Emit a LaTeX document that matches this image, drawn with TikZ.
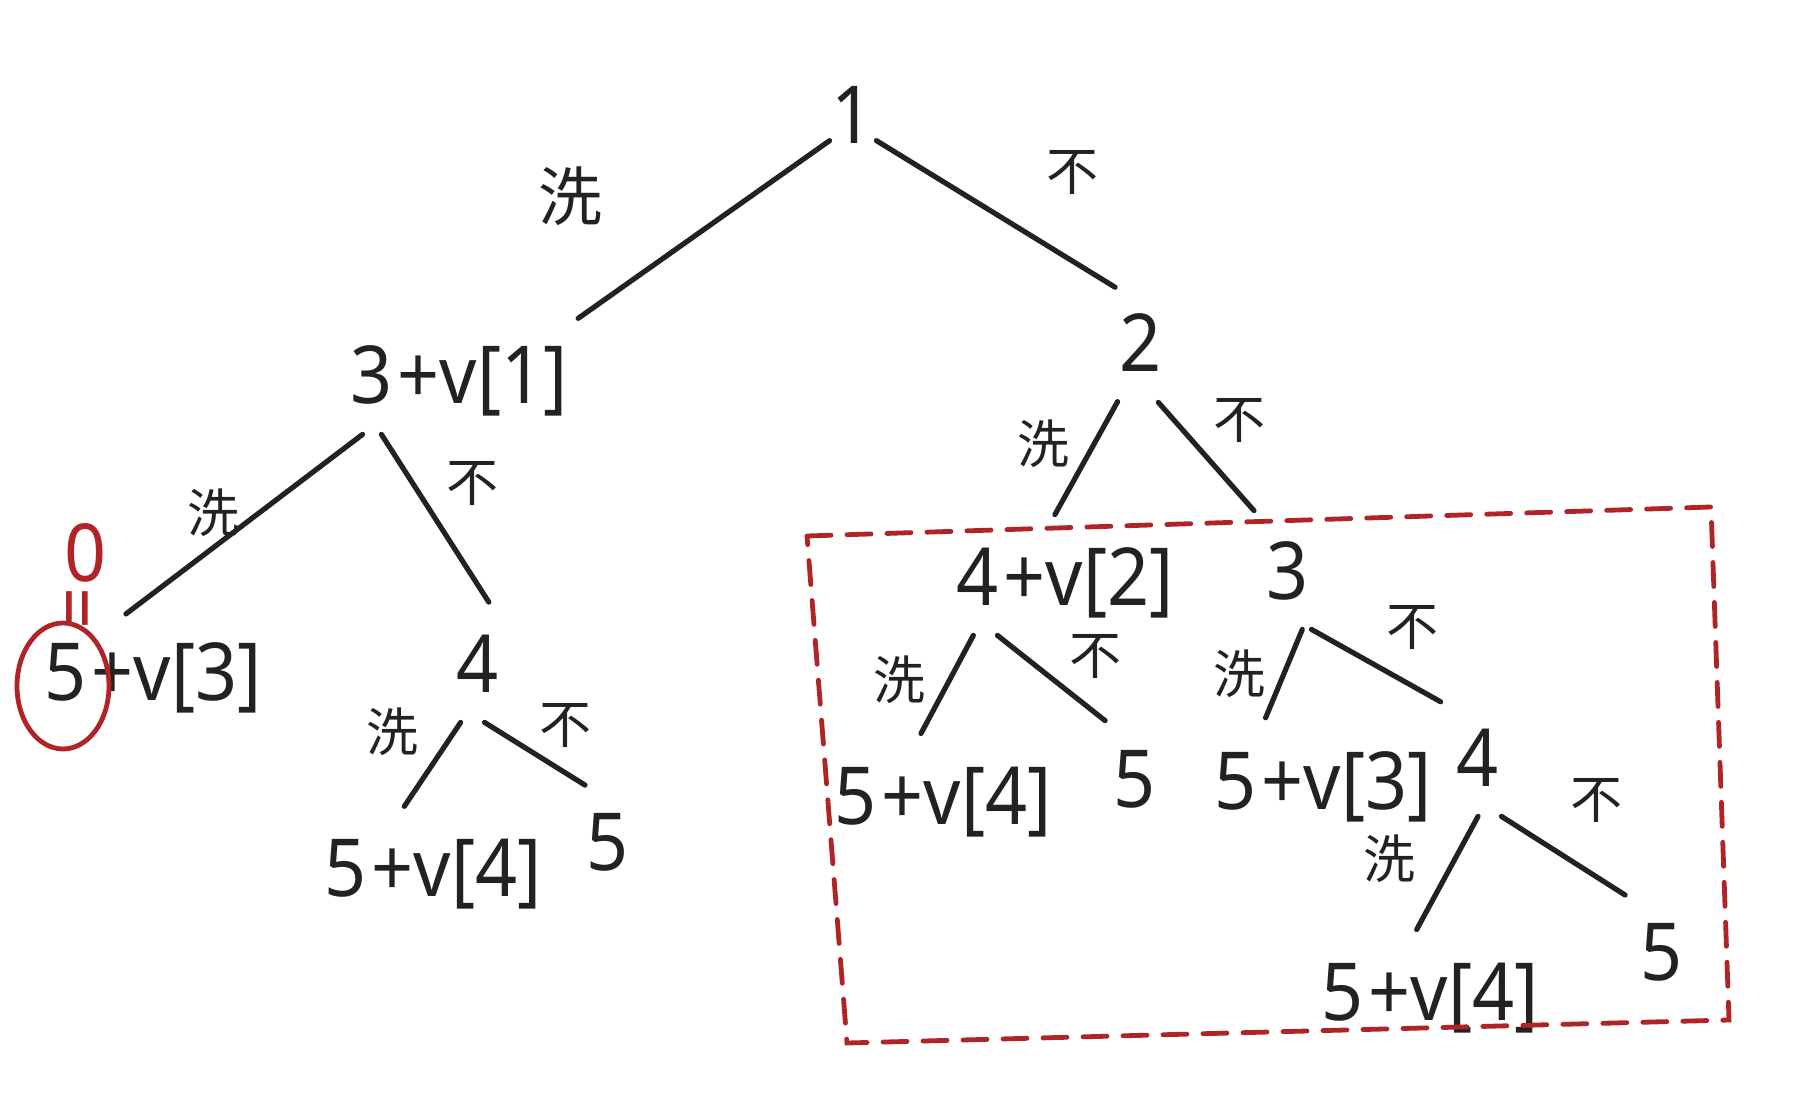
\documentclass[tikz,border=0pt]{standalone}
\usepackage{fontspec}
\setmainfont{Noto Sans}[FakeStretch=0.92]
\newfontfamily\cjk{Noto Sans CJK SC}
\usetikzlibrary{positioning}
\definecolor{ink}{RGB}{34,34,34}
\definecolor{markred}{RGB}{176,36,40}
\tikzset{
  val/.style={inner xsep=1pt, inner ysep=8pt, text height=30pt, text depth=7pt,
    font=\fontsize{40}{40}\selectfont, text=ink},
  edge/.style={draw=ink, line width=2.6pt, line cap=round, shorten >=8pt},
  tag/.style={font=\cjk\fontsize{26}{26}\selectfont, text=ink, inner sep=0pt},
  bigtag/.style={tag, font=\cjk\fontsize{32}{32}\selectfont},
  redpen/.style={draw=markred, line width=2.4pt, line cap=round}
}

\begin{document}
\begin{tikzpicture}[x=0.5pt, y=-0.5pt]
\useasboundingbox (0,0) rectangle (1807,1111);
\fill[white] (0,0) rectangle (1807,1111);

% tree values
\node[val] (x) at (853,121) {1};
\node[val] (xL) at (372,381) {3};
\node[val, right=0pt of xL] (xLv) {+v[1]};
\node[val] (xR) at (1141,349) {2};
\node[val] (xLL) at (66,677) {5};
\node[val, right=0pt of xLL] (xLLv) {+v[3]};
\node[val] (xLR) at (478,669) {4};
\node[val] (xLRL) at (346,873) {5};
\node[val, right=0pt of xLRL] (xLRLv) {+v[4]};
\node[val] (xLRR) at (608,847) {5};
\node[val] (xRL) at (978,582) {4};
\node[val, right=0pt of xRL] (xRLv) {+v[2]};
\node[val] (xRR) at (1288,576) {3};
\node[val] (xRLL) at (856,801) {5};
\node[val, right=0pt of xRLL] (xRLLv) {+v[4]};
\node[val] (xRLR) at (1135,784) {5};
\node[val] (xRRL) at (1236,786) {5};
\node[val, right=0pt of xRRL] (xRRLv) {+v[3]};
\node[val] (xRRR) at (1478,763) {4};
\node[val] (xRRRL) at (1343,997) {5};
\node[val, right=0pt of xRRRL] (xRRRLv) {+v[4]};
\node[val] (xRRRR) at (1662,957) {5};

% branches
\draw[edge] (x.-140) -- (xLv.33);
\draw[edge] (x.-40) -- (xR.103);
\draw[edge] (xL.-100) -- (xLLv.140);
\draw[edge] (xL.-80) -- (xLR.70);
\draw[edge] (xLR.-108) -- (xLRLv.139);
\draw[edge] (xLR.-83) -- (xLRR.100);
\draw[edge] (xR.-114) -- (xRLv.128);
\draw[edge] (xR.-72) -- (xRR.north west);
\draw[edge] (xRL.-95) -- (xRLLv.135);
\draw[edge] (xRL.-70) -- (xRLR.108);
\draw[edge] (xRR.-75) -- (xRRLv.north west);
\draw[edge] (xRR.south east) -- (xRRR.north west);
\draw[edge] (xRRR.south) -- (xRRRLv.130);
\draw[edge] (xRRR.south east) -- (xRRRR.north west);

% branch tags
\node[bigtag] (w) at (570,196) {洗};
\node[tag] (k) at (1072,173) {不};
\node[tag] (wL) at (213,513) {洗};
\node[tag] (kL) at (472,484) {不};
\node[tag] (wLR) at (392,732) {洗};
\node[tag] (kLR) at (565,726) {不};
\node[tag] (wR) at (1043,444) {洗};
\node[tag] (kR) at (1239,421) {不};
\node[tag] (wRL) at (899,680) {洗};
\node[tag] (kRL) at (1095,657) {不};
\node[tag] (wRR) at (1239,674) {洗};
\node[tag] (kRR) at (1412,628) {不};
\node[tag] (wRRR) at (1389,859) {洗};
\node[tag] (kRRR) at (1596,801) {不};

% red notes
\node[font=\fontsize{40}{40}\selectfont, text=markred, inner sep=0pt] (zero) at (86,553) {0};
\node[font=\fontsize{40}{40}\selectfont, text=markred, inner sep=0pt, rotate=90] (eq) at (86,608) {=};
\draw[redpen] ([shift={(-3,9)}]xLL.center) ellipse [x radius=23pt, y radius=31.5pt];
\draw[redpen, dash pattern=on 12pt off 8pt] (807,536) -- (1711,507) -- (1729,1020) -- (847,1043) -- cycle;
\end{tikzpicture}
\end{document}
